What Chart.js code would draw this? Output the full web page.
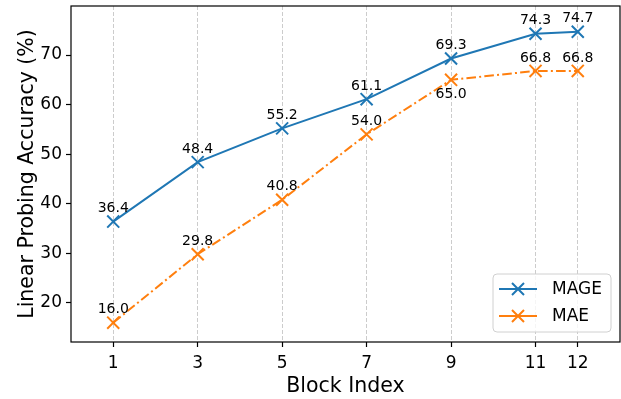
<!DOCTYPE html>
<html>
<head>
<meta charset="utf-8">
<script src="https://cdn.jsdelivr.net/npm/chart.js@4"></script>
<style>
  html, body { margin: 0; padding: 0; background: #fff; }
  canvas { display: block; }
</style>
</head>
<body>
<canvas id="chart" width="621" height="399"></canvas>
<script>
const blocks = [1, 3, 5, 7, 9, 11, 12];
const mageAcc = [36.4, 48.4, 55.2, 61.1, 69.3, 74.3, 74.7];
const maeAcc = [16.0, 29.8, 40.8, 54.0, 65.0, 66.8, 66.8];
const yTicks = [20, 30, 40, 50, 60, 70];
const seriesNames = ["MAGE", "MAE"];

const FONT = "'DejaVu Sans', sans-serif";
const blue = "#1f77b4", orange = "#ff7f0e";

function pts(ys) { return blocks.map((b, i) => ({ x: b, y: ys[i] })); }
function noPad(scale) {
  scale.paddingLeft = scale.paddingRight = scale.paddingTop = scale.paddingBottom = 0;
}

// value labels over the points (MAE at block 9 goes below)
const valueLabels = {
  id: "valueLabels",
  afterDatasetsDraw(chart) {
    const ctx = chart.ctx;
    ctx.save();
    ctx.font = "14px " + FONT;
    ctx.fillStyle = "#000";
    ctx.textAlign = "center";
    chart.data.datasets.forEach((ds, di) => {
      chart.getDatasetMeta(di).data.forEach((p, i) => {
        const v = ds.data[i].y.toFixed(1);
        if (di === 1 && i === 4) {
          ctx.textBaseline = "top";
          ctx.fillText(v, p.x, p.y + 8);
        } else {
          ctx.textBaseline = "bottom";
          ctx.fillText(v, p.x, p.y - 6);
        }
      });
    });
    ctx.restore();
  }
};

// frame around plot + matplotlib-like legend
const frameLegend = {
  id: "frameLegend",
  afterDraw(chart) {
    const ctx = chart.ctx, a = chart.chartArea;
    ctx.save();
    ctx.strokeStyle = "#000";
    ctx.lineWidth = 1.2;
    ctx.strokeRect(a.left, a.top, a.right - a.left, a.bottom - a.top);

    const bx = 493, by = 274, bw = 118, bh = 58, r = 4;
    ctx.beginPath();
    ctx.roundRect(bx, by, bw, bh, r);
    ctx.fillStyle = "rgba(255,255,255,0.8)";
    ctx.fill();
    ctx.strokeStyle = "#d0d0d0";
    ctx.lineWidth = 1;
    ctx.stroke();

    ctx.font = "17px " + FONT;
    ctx.textBaseline = "middle";
    ctx.textAlign = "left";
    chart.data.datasets.forEach((ds, i) => {
      const y = 289 + i * 27;
      ctx.strokeStyle = ds.borderColor;
      ctx.lineWidth = 2;
      ctx.setLineDash([]);
      ctx.beginPath();
      ctx.moveTo(499, y); ctx.lineTo(537, y);
      ctx.moveTo(512, y - 6); ctx.lineTo(524, y + 6);
      ctx.moveTo(512, y + 6); ctx.lineTo(524, y - 6);
      ctx.stroke();
      ctx.fillStyle = "#000";
      ctx.fillText(ds.label, 552, y + 1);
    });
    ctx.restore();
  }
};

new Chart(document.getElementById("chart"), {
  type: "line",
  data: {
    datasets: [
      {
        label: seriesNames[0],
        data: pts(mageAcc),
        borderColor: blue,
        backgroundColor: blue,
        borderWidth: 2,
        pointStyle: "crossRot",
        pointRadius: 8.5,
        pointBorderWidth: 2,
        pointBorderColor: blue,
        tension: 0
      },
      {
        label: seriesNames[1],
        data: pts(maeAcc),
        borderColor: orange,
        backgroundColor: orange,
        borderWidth: 2,
        borderDash: [9.6, 3.2, 2, 3.2],
        pointStyle: "crossRot",
        pointRadius: 8.5,
        pointBorderWidth: 2,
        pointBorderColor: orange,
        tension: 0
      }
    ]
  },
  options: {
    responsive: false,
    animation: false,
    devicePixelRatio: 1,
    layout: { autoPadding: false, padding: { left: 0, right: 1, top: 6, bottom: 0 } },
    plugins: {
      legend: { display: false },
      tooltip: { enabled: false }
    },
    scales: {
      x: {
        type: "linear",
        min: 0,
        max: 13,
        afterBuildTicks(scale) { scale.ticks = blocks.map(v => ({ value: v })); },
        afterFit(scale) { scale.height = 57; noPad(scale); },
        ticks: {
          font: { family: FONT, size: 17 },
          color: "#000",
          padding: 6,
          maxRotation: 0,
          autoSkip: false
        },
        grid: {
          color: "#cccccc",
          lineWidth: 1,
          tickColor: "#000",
          tickLength: 5,
          tickWidth: 1.2
        },
        border: { display: false, dash: [4, 2] },
        title: {
          display: true,
          text: "Block Index",
          font: { family: FONT, size: 20.5 },
          color: "#000",
          padding: { top: 2, bottom: 0 }
        }
      },
      y: {
        min: 12.1,
        max: 79.9,
        afterBuildTicks(scale) { scale.ticks = yTicks.map(v => ({ value: v })); },
        afterFit(scale) { scale.width = 71; noPad(scale); },
        ticks: {
          font: { family: FONT, size: 17 },
          color: "#000",
          padding: 4
        },
        grid: {
          drawOnChartArea: false,
          tickColor: "#000",
          tickLength: 5,
          tickWidth: 1.2
        },
        border: { display: false },
        title: {
          display: true,
          text: "Linear Probing Accuracy (%)",
          font: { family: FONT, size: 20.5 },
          color: "#000",
          padding: { top: 15, bottom: 0 }
        }
      }
    }
  },
  plugins: [valueLabels, frameLegend]
});
</script>
</body>
</html>
